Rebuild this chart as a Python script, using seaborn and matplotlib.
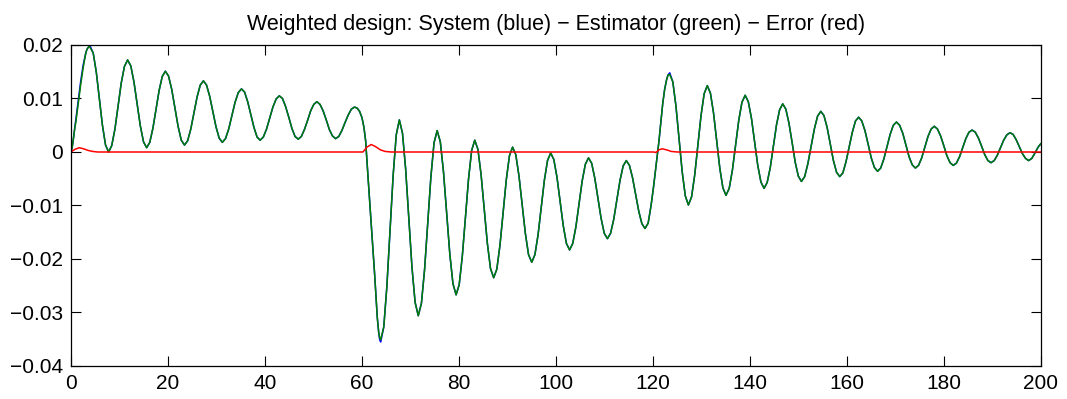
import pandas as pd
import matplotlib
matplotlib.use("Agg")
import matplotlib.pyplot as plt
import seaborn as sns

# Datos: tiempo y salida del sistema (azul)
time = [
    0, 0.25, 0.5, 0.75, 1.0, 1.5, 2.0, 2.5, 3.0, 3.25, 3.5, 3.75, 3.95,
    4.58, 5.22, 5.85, 6.48, 7.12, 7.75,
    8.40, 9.06, 9.71, 10.36, 11.02, 11.67,
    12.33, 12.98, 13.64, 14.29, 14.95, 15.6,
    16.24, 16.88, 17.53, 18.17, 18.81, 19.45,
    20.11, 20.77, 21.43, 22.08, 22.74, 23.4,
    24.05, 24.7, 25.35, 26.0, 26.65, 27.3,
    27.95, 28.6, 29.25, 29.9, 30.55, 31.2,
    31.86, 32.52, 33.18, 33.83, 34.49, 35.15,
    35.79, 36.43, 37.08, 37.72, 38.36, 39.0,
    39.66, 40.32, 40.98, 41.63, 42.29, 42.95,
    43.6, 44.25, 44.9, 45.55, 46.2, 46.85,
    47.49, 48.13, 48.78, 49.42, 50.06, 50.7,
    51.34, 51.98, 52.63, 53.27, 53.91, 54.55,
    55.2, 55.85, 56.5, 57.15, 57.8, 58.45,
    59.0, 59.5, 60.0, 60.4, 60.75, 61.2, 61.9, 62.6, 63.15, 63.45, 63.65, 63.85,
    64.49, 65.13, 65.78, 66.42, 67.06, 67.7,
    68.35, 69.0, 69.65, 70.3, 70.95, 71.6,
    72.25, 72.9, 73.55, 74.2, 74.85, 75.5,
    76.15, 76.8, 77.45, 78.1, 78.75, 79.4,
    80.04, 80.68, 81.33, 81.97, 82.61, 83.25,
    83.9, 84.55, 85.2, 85.85, 86.5, 87.15,
    87.8, 88.45, 89.1, 89.75, 90.4, 91.05,
    91.71, 92.37, 93.03, 93.68, 94.34, 95.0,
    95.65, 96.3, 96.95, 97.6, 98.25, 98.9,
    99.55, 100.2, 100.85, 101.5, 102.15, 102.8,
    103.45, 104.1, 104.75, 105.4, 106.05, 106.7,
    107.35, 108.0, 108.65, 109.3, 109.95, 110.6,
    111.25, 111.9, 112.55, 113.2, 113.85, 114.5,
    115.14, 115.78, 116.43, 117.07, 117.71, 118.35,
    119.0, 119.6, 120.1, 120.5, 121.2, 121.6, 122.0, 122.4, 122.8, 123.1, 123.45,
    124.09, 124.73, 125.38, 126.02, 126.66, 127.3,
    127.95, 128.6, 129.25, 129.9, 130.55, 131.2,
    131.84, 132.48, 133.13, 133.77, 134.41, 135.05,
    135.71, 136.37, 137.03, 137.68, 138.34, 139.0,
    139.65, 140.3, 140.95, 141.6, 142.25, 142.9,
    143.54, 144.18, 144.83, 145.47, 146.11, 146.75,
    147.39, 148.03, 148.68, 149.32, 149.96, 150.6,
    151.27, 151.93, 152.6, 153.27, 153.93, 154.6,
    155.25, 155.9, 156.55, 157.2, 157.85, 158.5,
    159.15, 159.8, 160.45, 161.1, 161.75, 162.4,
    163.05, 163.7, 164.35, 165.0, 165.65, 166.3,
    166.95, 167.6, 168.25, 168.9, 169.55, 170.2,
    170.85, 171.5, 172.15, 172.8, 173.45, 174.1,
    174.75, 175.4, 176.05, 176.7, 177.35, 178.0,
    178.65, 179.3, 179.95, 180.6, 181.25, 181.9,
    182.55, 183.2, 183.85, 184.5, 185.15, 185.8,
    186.45, 187.1, 187.75, 188.4, 189.05, 189.7,
    190.35, 191.0, 191.65, 192.3, 192.95, 193.6,
    194.24, 194.88, 195.53, 196.17, 196.81, 197.45,
    198.1, 198.75, 199.4, 200.0,
]

system = [
    0.0, 0.0009, 0.0025, 0.0043, 0.0062, 0.0098, 0.0132, 0.0162, 0.0183, 0.0191, 0.0195, 0.0197, 0.0198,
    0.0185, 0.0149, 0.0099, 0.0050, 0.0013, 0.0000,
    0.0012, 0.0043, 0.0086, 0.0129, 0.0160, 0.0172,
    0.0161, 0.0131, 0.0090, 0.0049, 0.0019, 0.0008,
    0.0018, 0.0044, 0.0080, 0.0115, 0.0141, 0.0151,
    0.0142, 0.0117, 0.0082, 0.0048, 0.0022, 0.0013,
    0.0021, 0.0043, 0.0073, 0.0103, 0.0125, 0.0133,
    0.0125, 0.0104, 0.0076, 0.0047, 0.0026, 0.0018,
    0.0025, 0.0043, 0.0068, 0.0093, 0.0111, 0.0118,
    0.0112, 0.0094, 0.0070, 0.0046, 0.0028, 0.0022,
    0.0028, 0.0043, 0.0064, 0.0084, 0.0099, 0.0105,
    0.0100, 0.0085, 0.0065, 0.0044, 0.0029, 0.0024,
    0.0029, 0.0042, 0.0059, 0.0077, 0.0089, 0.0094,
    0.0089, 0.0077, 0.0060, 0.0042, 0.0030, 0.0025,
    0.0029, 0.0040, 0.0055, 0.0069, 0.0080, 0.0084,
    0.0082, 0.0076, 0.0064, 0.0046, 0.0021, -0.0041, -0.0134, -0.0228, -0.0309, -0.0338, -0.0351, -0.0355,
    -0.0327, -0.0251, -0.0148, -0.0044, 0.0032, 0.0060,
    0.0035, -0.0032, -0.0123, -0.0215, -0.0281, -0.0306,
    -0.0283, -0.0220, -0.0133, -0.0047, 0.0017, 0.0040,
    0.0019, -0.0037, -0.0114, -0.0190, -0.0246, -0.0267,
    -0.0248, -0.0195, -0.0123, -0.0050, 0.0003, 0.0022,
    0.0005, -0.0042, -0.0107, -0.0171, -0.0218, -0.0235,
    -0.0219, -0.0174, -0.0113, -0.0052, -0.0007, 0.0009,
    -0.0005, -0.0045, -0.0099, -0.0152, -0.0192, -0.0206,
    -0.0192, -0.0155, -0.0104, -0.0053, -0.0016, -0.0002,
    -0.0014, -0.0047, -0.0093, -0.0138, -0.0171, -0.0183,
    -0.0171, -0.0140, -0.0097, -0.0054, -0.0023, -0.0011,
    -0.0021, -0.0049, -0.0087, -0.0124, -0.0152, -0.0162,
    -0.0152, -0.0126, -0.0089, -0.0053, -0.0026, -0.0016,
    -0.0025, -0.0048, -0.0080, -0.0111, -0.0134, -0.0143,
    -0.0133, -0.0100, -0.0066, -0.0035, 0.0018, 0.0055, 0.0090, 0.0117, 0.0135, 0.0144, 0.0148,
    0.0131, 0.0086, 0.0024, -0.0037, -0.0082, -0.0099,
    -0.0084, -0.0043, 0.0013, 0.0068, 0.0109, 0.0124,
    0.0110, 0.0073, 0.0022, -0.0030, -0.0067, -0.0081,
    -0.0068, -0.0034, 0.0013, 0.0059, 0.0093, 0.0106,
    0.0094, 0.0063, 0.0019, -0.0025, -0.0056, -0.0068,
    -0.0057, -0.0029, 0.0011, 0.0051, 0.0079, 0.0090,
    0.0080, 0.0054, 0.0018, -0.0019, -0.0045, -0.0055,
    -0.0046, -0.0022, 0.0011, 0.0043, 0.0067, 0.0076,
    0.0068, 0.0046, 0.0015, -0.0016, -0.0038, -0.0046,
    -0.0039, -0.0018, 0.0010, 0.0037, 0.0058, 0.0065,
    0.0058, 0.0040, 0.0015, -0.0011, -0.0029, -0.0036,
    -0.0030, -0.0013, 0.0010, 0.0033, 0.0050, 0.0056,
    0.0050, 0.0035, 0.0013, -0.0009, -0.0024, -0.0030,
    -0.0025, -0.0011, 0.0009, 0.0029, 0.0043, 0.0048,
    0.0043, 0.0030, 0.0012, -0.0007, -0.0020, -0.0025,
    -0.0021, -0.0009, 0.0008, 0.0025, 0.0037, 0.0041,
    0.0037, 0.0026, 0.0011, -0.0005, -0.0016, -0.0020,
    -0.0016, -0.0006, 0.0008, 0.0022, 0.0032, 0.0036,
    0.0033, 0.0023, 0.0010, -0.0003, -0.0012, -0.0016,
    -0.0012, -0.0002, 0.0009, 0.0016,
]

# El estimador (verde) coincide con el sistema salvo en los transitorios
estimator_fix = {1.0: 0.0056, 1.5: 0.0091, 2.0: 0.0126, 2.5: 0.0157,
                 3.95: 0.0195, 63.65: -0.0347, 63.85: -0.0351, 123.45: 0.0145}

# Error (rojo)
error_time = [0, 0.8, 1.7, 2.6, 3.5, 4.5, 5.5,
              60.2, 61.0, 61.9, 62.8, 63.8, 64.8, 66.0,
              120.2, 120.6, 121.2, 121.9, 122.8, 123.8, 125.0, 200]
error = [0, 0.0005, 0.0008, 0.0006, 0.0003, 0.0001, 0,
         0, 0.0009, 0.0014, 0.0010, 0.0004, 0.0001, 0,
         0, -0.0001, 0.0004, 0.0006, 0.0004, 0.0001, 0, 0]

x_ticks = [0, 20, 40, 60, 80, 100, 120, 140, 160, 180, 200]
y_ticks = [-0.04, -0.03, -0.02, -0.01, 0, 0.01, 0.02]
y_tick_labels = ["\u22120.04", "\u22120.03", "\u22120.02", "\u22120.01", "0", "0.01", "0.02"]
title = "Weighted design: System (blue) \u2212 Estimator (green) \u2212 Error (red)"

estimator = list(system)
for tt, vv in estimator_fix.items():
    estimator[time.index(tt)] = vv

df = pd.DataFrame({"t": time, "system": system, "estimator": estimator})
df_err = pd.DataFrame({"t": error_time, "error": error})

sns.set_style("ticks")
plt.rcParams["font.family"] = ["Liberation Sans", "DejaVu Sans"]
plt.rcParams["text.color"] = "black"

fig = plt.figure(figsize=(10.67, 3.99), dpi=100)
ax = fig.add_axes([71 / 1067, 1 - 366 / 399, 970 / 1067, 321 / 399])

sns.lineplot(data=df, x="t", y="system", color="#0000ff", linewidth=1.1,
             estimator=None, sort=False, ax=ax)
sns.lineplot(data=df, x="t", y="estimator", color="#007f00", linewidth=1.1,
             estimator=None, sort=False, ax=ax)
sns.lineplot(data=df_err, x="t", y="error", color="#ff0000", linewidth=1.1,
             estimator=None, sort=False, ax=ax)

ax.set_xlim(0, 200)
ax.set_ylim(-0.04, 0.02)
ax.set_xticks(x_ticks)
ax.set_xticklabels([str(v) for v in x_ticks])
ax.set_yticks(y_ticks)
ax.set_yticklabels(y_tick_labels)
ax.set_xlabel("")
ax.set_ylabel("")
ax.tick_params(direction="in", length=7, width=0.8, top=True, right=True,
               colors="black", labelsize=15, pad=6)
for s in ax.spines.values():
    s.set_visible(True)
    s.set_color("black")
    s.set_linewidth(0.9)
ax.set_title(title, fontsize=15.5, pad=11, color="black")

fig.savefig("out.png", dpi=100)
